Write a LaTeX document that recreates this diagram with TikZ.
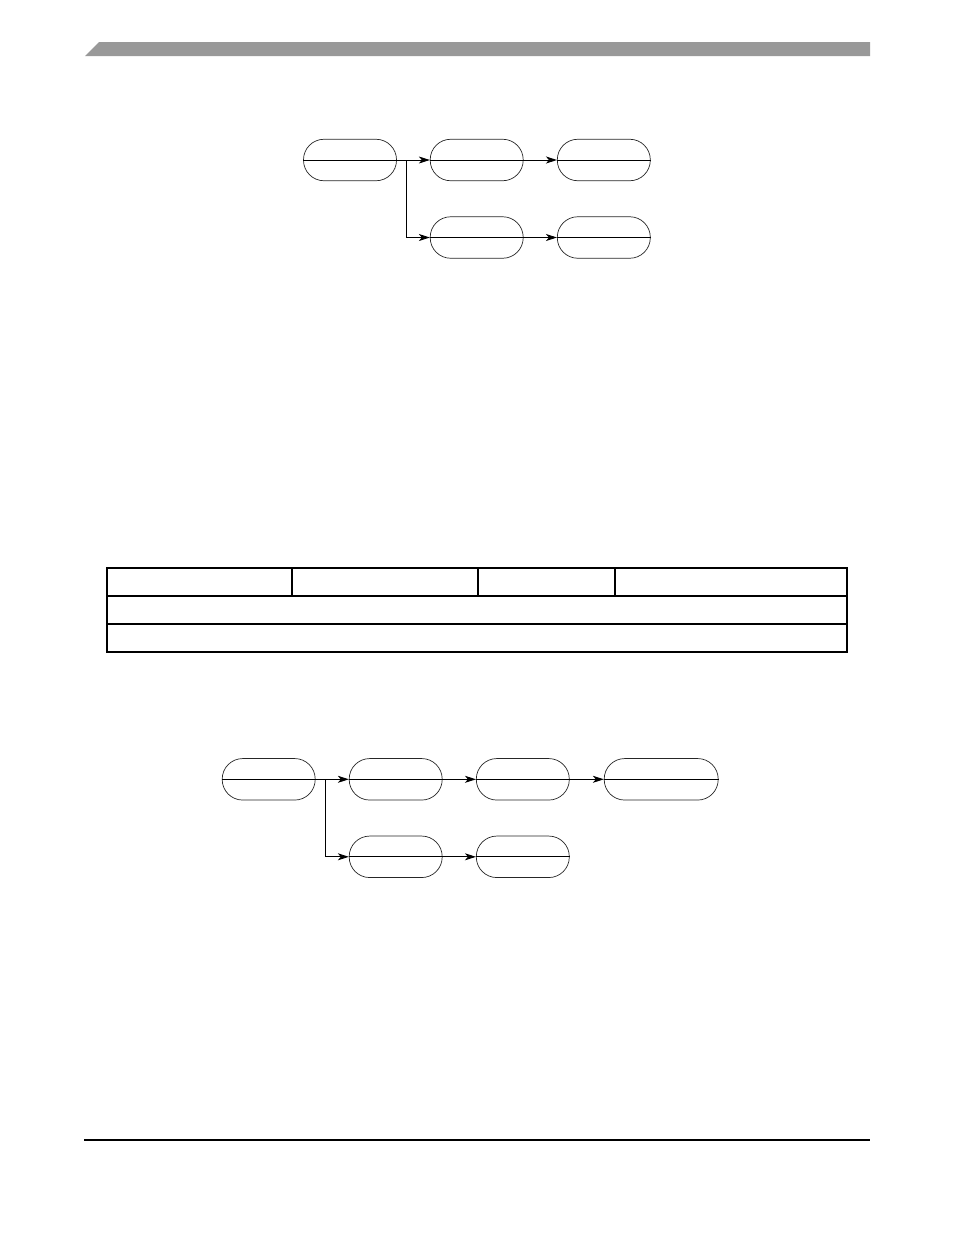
\documentclass[tikz,border=0pt]{standalone}
\usetikzlibrary{arrows.meta}
\definecolor{bargray}{RGB}{153,153,153}
\begin{document}
\begin{tikzpicture}[x=1pt,y=-1pt,
  pill/.style={draw=black!85,line width=0.7pt,rounded corners=20.5pt,minimum width=93pt,minimum height=41.5pt,inner sep=0pt},
  wide/.style={pill,minimum width=114pt},
  conn/.style={line width=0.9pt,-{Stealth[length=11pt,width=7pt,inset=3pt]}},
  mid/.style={line width=0.9pt},
  tbl/.style={line width=1.1pt}]
\useasboundingbox (0,0) rectangle (954,1235);
% header bar
\fill[bargray] (85,56) -- (99,42) -- (870,42) -- (870,56) -- cycle;
% footer rule
\draw[line width=1.3pt] (84,1140) -- (870,1140);

% ---- diagram 1 ----
\node[pill] (a1) at (350,160) {};
\node[pill] (a2) at (476.7,160) {};
\node[pill] (a3) at (603.8,160) {};
\node[pill] (a4) at (476.7,237.5) {};
\node[pill] (a5) at (603.8,237.5) {};
\foreach \n in {a1,a2,a3,a4,a5} \draw[mid] (\n.west) -- (\n.east);
\coordinate (ab) at (406,160);
\draw[conn] (a1.east) -- (a2.west);
\draw[conn] (a2.east) -- (a3.west);
\draw[conn] (ab) |- (a4.west);
\draw[conn] (a4.east) -- (a5.west);

% ---- table ----
\draw[tbl] (107,568) rectangle (847,652);
\draw[tbl] (107,596) -- (847,596);
\draw[tbl] (107,624) -- (847,624);
\draw[tbl] (292,568) -- (292,596);
\draw[tbl] (478,568) -- (478,596);
\draw[tbl] (615,568) -- (615,596);

% ---- diagram 2 ----
\node[pill] (b1) at (268.7,779.3) {};
\node[pill] (b2) at (395.7,779.3) {};
\node[pill] (b3) at (522.8,779.3) {};
\node[wide] (b4) at (661.2,779.3) {};
\node[pill] (b5) at (395.7,856.8) {};
\node[pill] (b6) at (522.8,856.8) {};
\foreach \n in {b1,b2,b3,b4,b5,b6} \draw[mid] (\n.west) -- (\n.east);
\coordinate (bb) at (325,779.3);
\draw[conn] (b1.east) -- (b2.west);
\draw[conn] (b2.east) -- (b3.west);
\draw[conn] (b3.east) -- (b4.west);
\draw[conn] (bb) |- (b5.west);
\draw[conn] (b5.east) -- (b6.west);
\end{tikzpicture}
\end{document}
